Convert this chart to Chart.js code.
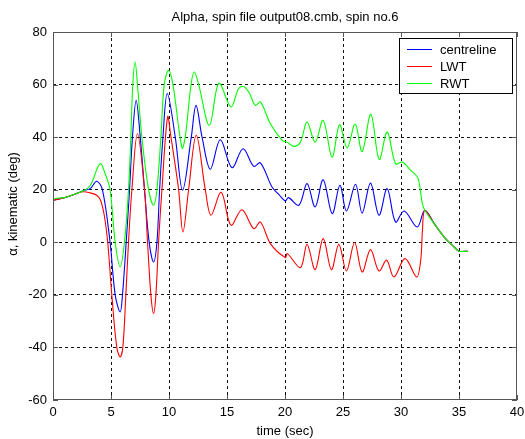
<!DOCTYPE html>
<html>
<head>
<meta charset="utf-8">
<title>Alpha, spin no.6</title>
<script src="https://cdn.jsdelivr.net/npm/chart.js@4.4.0/dist/chart.umd.min.js"></script>
<style>
    body { margin: 0; background: #fff; }
    #wrap { width: 525px; height: 439px; }
</style>
</head>
<body>
<div id="wrap"><canvas id="alphaChart" width="525" height="439"></canvas></div>
<script>
// values (time in sec, alpha in deg)
var centreTime = [0, 1, 2, 2.6, 3.2, 3.77, 4.26, 4.92, 5.36, 5.79, 5.99, 6.31, 6.6, 6.85, 7.17, 7.52, 7.89, 8.29, 8.67, 8.96,
    9.19, 9.48, 9.85, 10.54, 11.17, 11.92, 12.33, 12.85, 13.56, 14.42, 15.43, 16.38, 17.3, 17.88, 18.88, 19.5, 20.03, 20.3, 21.2, 21.9,
    22.6, 23.29, 24.07, 24.73, 25.3, 26.08, 26.65, 27.37, 28.1, 28.81, 29.53, 30.27, 31.4, 32.05, 32.86, 33.72, 34.58, 35.0, 35.74];
var centreAlpha = [16, 17, 18.5, 19.6, 20.4, 23.2, 20, 0, -20, -26.5, -20, 0, 20, 40, 54, 40, 20, 0, -7.5, 0,
    20, 40, 56.6, 40, 19.8, 40, 52.1, 40, 27.8, 39, 28.4, 35.6, 28.9, 30.2, 21, 18, 15.7, 17, 14.1, 22.3,
    13.4, 23.8, 10.9, 21.7, 11.9, 22.1, 11.1, 22.5, 10.3, 20.4, 7.7, 11.9, 5.8, 12.2, 7.1, 2, -1.8, -3.4, -3.4];

var lwtTime = [0, 1, 2, 2.6, 3.2, 3.77, 4.1, 4.43, 4.72, 5.07, 5.5, 5.79, 6.02, 6.28, 6.51, 6.8, 7.28, 7.89, 8.15, 8.44,
    8.67, 8.87, 9.1, 9.39, 9.88, 10.17, 10.83, 11.2, 11.69, 12.35, 13.13, 13.62, 14.5, 15.34, 16.29, 17.3, 17.88, 18.74, 20.03, 20.2,
    21.33, 21.9, 22.6, 23.29, 24.0, 24.64, 25.3, 26.0, 26.65, 27.37, 28.1, 28.76, 29.39, 30.35, 31.35, 31.7, 31.85, 32.05, 32.86, 33.72,
    34.58, 35.0, 35.74];
var lwtAlpha = [16, 17, 18.5, 19.2, 18.8, 17.9, 16, 10, 0, -20, -40, -43.6, -40, -20, 0, 20, 41.3, 20, 0, -20,
    -27.1, -20, 0, 20, 47.7, 40, 20, 3.9, 20, 40.7, 20, 10.3, 19, 6.5, 12.4, 5.2, 7.7, -0.5, -5.8, -4.3,
    -9.6, -0.8, -10.4, 1.4, -10.4, -0.8, -10.9, -0.1, -11.3, -2.8, -10.9, -6.8, -13.2, -6.2, -13.2, -6.8, 4.6, 12.2, 7.1, 2,
    -1.8, -3.4, -3.4];

var rwtTime = [0, 0.02, 1, 2, 2.6, 3.2, 4.06, 4.5, 4.92, 5.36, 5.79, 6.16, 6.51, 6.71, 6.88, 7.08, 7.28, 7.66, 8.24, 8.67,
    8.96, 9.3, 9.59, 9.96, 10.34, 11.12, 11.4, 11.9, 12.18, 12.56, 13.48, 14.3, 15.34, 16.0, 16.44, 16.9, 17.44, 17.88, 18.74, 19.75,
    20.18, 20.75, 21.33, 21.9, 22.6, 23.29, 24.06, 24.7, 25.36, 26.05, 26.65, 27.4, 28.12, 28.81, 29.53, 30.11, 30.83, 31.45, 31.84, 32.05,
    32.86, 33.72, 34.58, 35.0, 35.74];
var rwtAlpha = [0, 16, 17, 18.5, 19.6, 21.5, 29.9, 26, 20, 0, -9.4, 0, 20, 40, 60, 68.6, 60, 40, 20, 14.1,
    20, 40, 60, 65.4, 60, 35.9, 40, 60, 64.8, 60, 44.5, 60.5, 51.5, 58.5, 59.3, 57, 52.1, 53.4, 45.1, 38.8,
    38.1, 36.5, 38.1, 45.7, 38.1, 46.4, 32.4, 44.7, 35.9, 45, 34.5, 48.7, 31.5, 41.9, 29.9, 30.5, 27.4, 24.5, 14.7, 12.2,
    7.1, 2, -1.8, -3.4, -3.4];

var seriesNames = ['centreline', 'LWT', 'RWT'];
var xTicks = [0, 5, 10, 15, 20, 25, 30, 35, 40];
var yTicks = [-60, -40, -20, 0, 20, 40, 60, 80];

var chartTitle = 'Alpha, spin file output08.cmb, spin no.6';
var xTitle = 'time (sec)';
var yTitle = '\u03b1, kinematic (deg)';

var FONT = "'Liberation Sans', Arial, sans-serif";
Chart.defaults.font.family = FONT;
Chart.defaults.font.size = 13;
Chart.defaults.color = '#000';

function toPoints(ts, vs) {
    var pts = [];
    for (var i = 0; i < ts.length; i++) {
        pts.push({x: ts[i], y: vs[i]});
    }
    return pts;
}

// grid line colour, edges are left to the frame
function gridColor(ticks) {
    return function (ctx) {
        var v = ctx.tick ? ctx.tick.value : null;
        if (v === ticks[0] || v === ticks[ticks.length - 1]) return 'rgba(0,0,0,0)';
        return '#111';
    };
}

// matlab-ish frame, inward ticks, title, y label and boxed legend
var matlabPlugin = {
    id: 'matlabFrame',
    afterDraw: function (chart) {
        var ctx = chart.ctx;
        var a = chart.chartArea;
        var xs = chart.scales.x, ys = chart.scales.y;
        ctx.save();

        ctx.strokeStyle = '#555';
        ctx.lineWidth = 1;
        ctx.setLineDash([]);
        ctx.strokeRect(Math.round(a.left) + 0.5, Math.round(a.top) + 0.5,
            Math.round(a.right - a.left) - 1, Math.round(a.bottom - a.top) - 1);

        ctx.beginPath();
        xTicks.forEach(function (v) {
            var px = Math.round(xs.getPixelForValue(v)) + 0.5;
            ctx.moveTo(px, a.bottom); ctx.lineTo(px, a.bottom - 5);
            ctx.moveTo(px, a.top); ctx.lineTo(px, a.top + 5);
        });
        yTicks.forEach(function (v) {
            var py = Math.round(ys.getPixelForValue(v)) + 0.5;
            ctx.moveTo(a.left, py); ctx.lineTo(a.left + 5, py);
            ctx.moveTo(a.right, py); ctx.lineTo(a.right - 5, py);
        });
        ctx.stroke();

        // title
        ctx.fillStyle = '#000';
        ctx.font = '13px ' + FONT;
        ctx.textAlign = 'center';
        ctx.textBaseline = 'alphabetic';
        ctx.fillText(chartTitle, (a.left + a.right) / 2, 21);

        // y label
        ctx.save();
        ctx.translate(17, 204);
        ctx.rotate(-Math.PI / 2);
        ctx.fillText(yTitle, 0, 0);
        ctx.restore();

        // legend box
        var bx = 399, by = 38, bw = 114, bh = 56;
        ctx.fillStyle = '#fff';
        ctx.fillRect(bx, by, bw, bh);
        ctx.strokeStyle = '#000';
        ctx.strokeRect(bx + 0.5, by + 0.5, bw - 1, bh - 1);
        ctx.textAlign = 'left';
        ctx.textBaseline = 'middle';
        chart.data.datasets.forEach(function (ds, i) {
            var ry = by + 11.5 + i * 17;
            ctx.strokeStyle = ds.borderColor;
            ctx.beginPath();
            ctx.moveTo(bx + 8, ry);
            ctx.lineTo(bx + 33, ry);
            ctx.stroke();
            ctx.fillStyle = '#000';
            ctx.fillText(ds.label, bx + 41, ry + 0.5);
        });

        ctx.restore();
    }
};

var ctx = document.getElementById('alphaChart');
var alphaChart = new Chart(ctx, {
    type: 'line',
    data: {
        datasets: [{
            label: seriesNames[0],
            data: toPoints(centreTime, centreAlpha),
            borderColor: '#0000ff',
            order: 2
        }, {
            label: seriesNames[1],
            data: toPoints(lwtTime, lwtAlpha),
            borderColor: '#ff0000',
            order: 1
        }, {
            label: seriesNames[2],
            data: toPoints(rwtTime, rwtAlpha),
            borderColor: '#00ff00',
            order: 0
        }]
    },
    options: {
        responsive: false,
        animation: false,
        devicePixelRatio: 1,
        layout: { padding: { top: 32, right: 8, left: 0, bottom: 0 } },
        elements: {
            point: { radius: 0 },
            line: { borderWidth: 1.1, tension: 0.35, fill: false }
        },
        plugins: {
            legend: { display: false },
            title: { display: false },
            tooltip: { enabled: false }
        },
        scales: {
            x: {
                type: 'linear',
                min: 0,
                max: 40,
                afterFit: function (scale) {
                    scale.height = 39;
                    scale.paddingLeft = 0;
                    scale.paddingRight = 0;
                },
                afterBuildTicks: function (scale) {
                    scale.ticks = xTicks.map(function (v) { return {value: v}; });
                },
                ticks: { padding: 5, maxRotation: 0, autoSkip: false, color: '#000' },
                grid: { color: gridColor(xTicks), drawTicks: false },
                border: { display: false, dash: [3, 3] },
                title: { display: true, text: xTitle, padding: { top: 0, bottom: 0 }, color: '#000' }
            },
            y: {
                min: -60,
                max: 80,
                afterFit: function (scale) {
                    scale.width = 53;
                    scale.paddingTop = 0;
                    scale.paddingBottom = 0;
                },
                afterBuildTicks: function (scale) {
                    scale.ticks = yTicks.map(function (v) { return {value: v}; });
                },
                ticks: { padding: 6, autoSkip: false, color: '#000' },
                grid: { color: gridColor(yTicks), drawTicks: false },
                border: { display: false, dash: [3, 3] }
            }
        }
    },
    plugins: [matlabPlugin]
});
</script>
</body>
</html>
